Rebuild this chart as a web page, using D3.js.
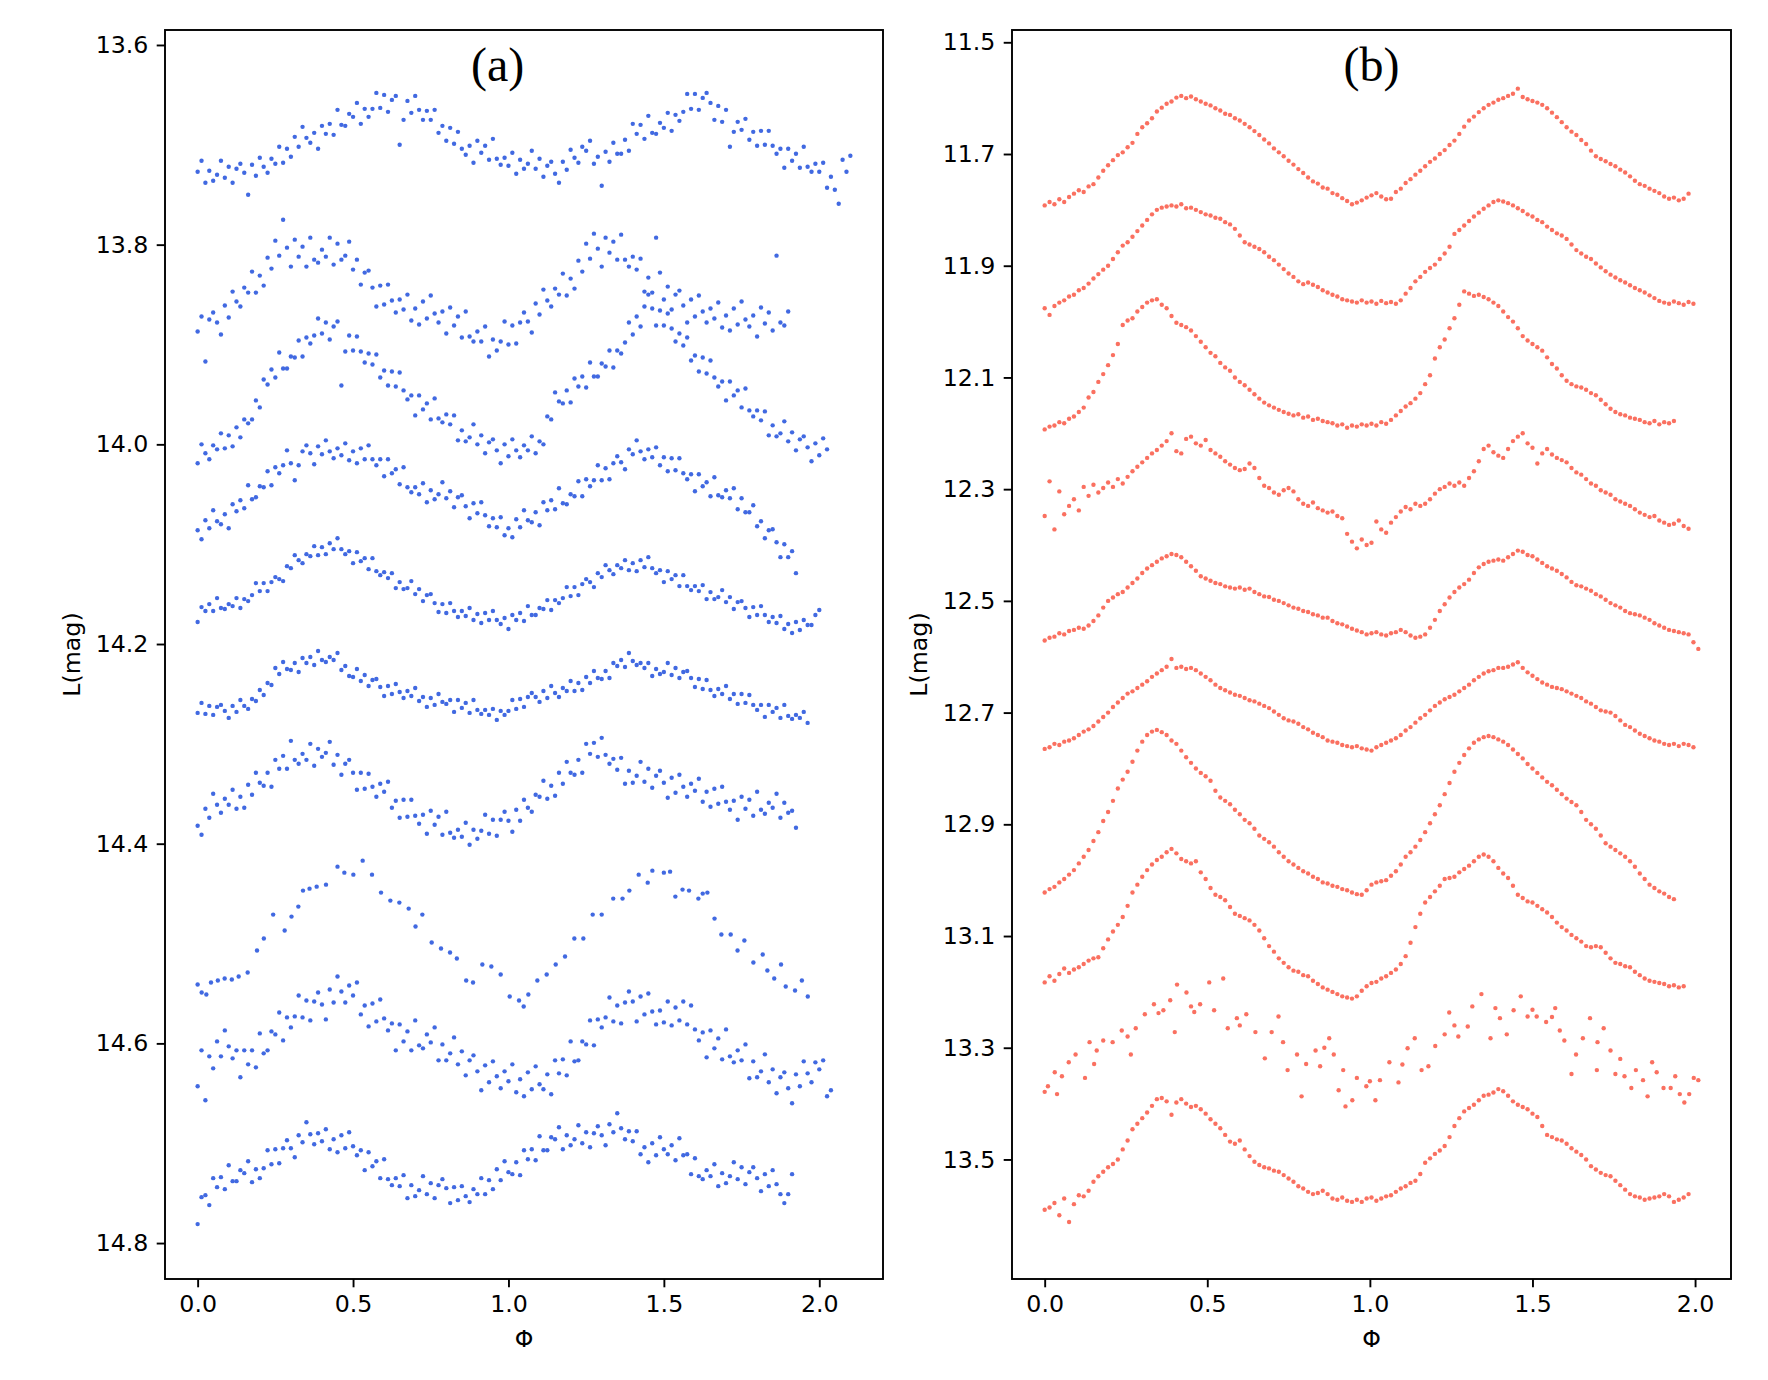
<!DOCTYPE html>
<html><head><meta charset="utf-8">
<script src="https://cdn.jsdelivr.net/npm/d3@7"></script>
<style>body{margin:0;background:#fff}</style>
</head><body>
<svg id="chart" width="1768" height="1380"></svg>
<script>
// ---------------- data ----------------
const phaseStepA = 0.0125; // phase spacing of the panel (a) sampled arrays
const phaseStepB = 0.015;  // phase spacing of the panel (b) sampled arrays
const xTicks = [0, 0.5, 1.0, 1.5, 2.0];
const yTicksA = [13.6, 13.8, 14.0, 14.2, 14.4, 14.6, 14.8];
const yTicksB = [11.5, 11.7, 11.9, 12.1, 12.3, 12.5, 12.7, 12.9, 13.1, 13.3, 13.5];
const xLimA = [-0.105, 2.205], yLimA = [13.585, 14.836];
const xLimB = [-0.1005, 2.1105], yLimB = [11.478, 13.714];
const panelTitles = ["(a)", "(b)"];
const titlePhase = [0.965, 1.005];

// panel (a) light curves (magnitude at phase = i*phaseStepA)
const a1 = [13.727,13.716,13.738,13.726,13.736,13.730,13.716,13.733,13.722,13.738,
13.724,13.719,13.728,13.750,13.720,13.731,13.713,13.722,13.728,13.714,
13.719,13.702,13.718,13.704,13.712,13.692,13.702,13.682,13.693,13.698,
13.688,13.704,13.681,13.689,13.679,13.690,13.665,13.680,13.681,13.669,
13.672,13.658,13.679,13.664,13.672,13.664,13.648,13.663,13.650,13.667,
13.655,13.651,13.700,13.675,13.656,13.668,13.651,13.665,13.675,13.666,
13.675,13.665,13.688,13.681,13.696,13.683,13.699,13.687,13.704,13.710,
13.701,13.718,13.696,13.708,13.701,13.715,13.694,13.714,13.720,13.713,
13.721,13.708,13.729,13.715,13.724,13.719,13.706,13.724,13.714,13.732,
13.721,13.717,13.729,13.738,13.717,13.725,13.705,13.713,13.718,13.702,
13.706,13.696,13.719,13.712,13.741,13.707,13.717,13.698,13.709,13.709,
13.695,13.706,13.679,13.689,13.680,13.694,13.671,13.688,13.689,13.678,
13.683,13.668,13.686,13.670,13.676,13.667,13.649,13.664,13.649,13.665,
13.653,13.648,13.658,13.675,13.661,13.677,13.665,13.702,13.687,13.677,
13.685,13.674,13.695,13.687,13.701,13.686,13.700,13.686,13.701,13.709,
13.704,13.723,13.704,13.716,13.709,13.723,13.702,13.722,13.727,13.719,
13.727,13.718,13.743,13.732,13.745,13.759,13.715,13.727,13.711];
const a2 = [13.887,13.872,13.917,13.875,13.868,13.878,13.890,13.861,13.873,13.847,
13.857,13.862,13.843,13.848,13.827,13.848,13.831,13.841,13.813,13.824,
13.796,13.811,13.775,13.803,13.822,13.795,13.812,13.802,13.822,13.793,
13.815,13.818,13.805,13.812,13.793,13.820,13.799,13.815,13.811,13.797,
13.825,13.815,13.840,13.828,13.826,13.843,13.862,13.841,13.860,13.840,
13.856,13.868,13.855,13.865,13.850,13.876,13.864,13.880,13.857,13.874,
13.851,13.869,13.878,13.867,13.889,13.863,13.881,13.872,13.893,13.867,
13.892,13.897,13.887,13.897,13.882,13.912,13.895,13.906,13.897,13.877,
13.900,13.881,13.899,13.878,13.868,13.877,13.888,13.859,13.870,13.845,
13.856,13.862,13.844,13.850,13.829,13.851,13.834,13.844,13.816,13.827,
13.799,13.814,13.789,13.804,13.822,13.793,13.808,13.797,13.815,13.790,
13.815,13.822,13.812,13.825,13.814,13.847,13.833,13.848,13.793,13.828,
13.855,13.842,13.865,13.850,13.846,13.861,13.878,13.855,13.872,13.851,
13.867,13.878,13.864,13.874,13.858,13.883,13.871,13.886,13.864,13.880,
13.857,13.875,13.882,13.871,13.892,13.863,13.879,13.868,13.886,13.811,
13.878,13.881,13.867];
const a3 = [14.019,14.000,14.009,14.015,14.001,14.005,13.989,14.004,13.991,14.002,
13.983,13.993,13.975,13.979,13.975,13.956,13.963,13.935,13.940,13.925,
13.933,13.908,13.924,13.924,13.912,13.913,13.896,13.912,13.893,13.899,
13.891,13.874,13.889,13.878,13.895,13.882,13.877,13.941,13.907,13.891,
13.906,13.892,13.907,13.918,13.909,13.920,13.910,13.933,13.926,13.941,
13.927,13.942,13.928,13.946,13.955,13.951,13.971,13.951,13.965,13.959,
13.975,13.954,13.974,13.978,13.970,13.980,13.971,13.996,13.986,13.997,
13.993,13.980,14.000,13.991,14.009,13.998,13.995,14.006,14.019,14.000,
14.012,13.995,14.006,14.013,14.001,14.006,13.992,14.009,13.997,14.000,
13.972,13.975,13.948,13.957,13.959,13.946,13.958,13.934,13.942,13.932,
13.943,13.918,13.932,13.932,13.919,13.922,13.906,13.923,13.906,13.909,
13.898,13.878,13.890,13.872,13.882,13.862,13.850,13.864,13.881,13.866,
13.881,13.869,13.884,13.897,13.889,13.901,13.893,13.916,13.911,13.927,
13.913,13.929,13.916,13.933,13.942,13.937,13.956,13.937,13.951,13.946,
13.963,13.944,13.966,13.972,13.966,13.976,13.967,13.991,13.981,13.992,
13.989,13.977,13.997,13.988,14.006,13.995,13.992,14.003,14.017,13.999,
14.011,13.994,14.005];
const a4 = [14.086,14.095,14.076,14.084,14.066,14.077,14.080,14.070,14.084,14.060,
14.067,14.056,14.064,14.041,14.055,14.053,14.042,14.043,14.027,14.041,
14.023,14.029,14.021,14.006,14.019,14.036,14.021,14.007,14.001,14.009,
14.020,14.002,14.010,13.996,14.007,14.014,14.004,14.011,13.999,14.016,
14.007,14.019,14.004,14.015,14.001,14.015,14.021,14.015,14.032,14.015,
14.029,14.025,14.040,14.023,14.043,14.048,14.043,14.050,14.039,14.058,
14.046,14.055,14.050,14.038,14.054,14.047,14.063,14.053,14.051,14.062,
14.074,14.059,14.069,14.058,14.071,14.082,14.074,14.083,14.073,14.091,
14.084,14.093,14.075,14.083,14.066,14.076,14.078,14.068,14.081,14.058,
14.066,14.056,14.065,14.044,14.059,14.060,14.050,14.052,14.037,14.052,
14.035,14.042,14.036,14.021,14.036,14.024,14.035,14.019,14.012,14.018,
14.025,14.005,14.010,13.996,14.007,14.015,14.005,14.013,14.003,14.021,
14.013,14.027,14.014,14.026,14.014,14.029,14.035,14.030,14.047,14.030,
14.042,14.038,14.052,14.033,14.051,14.053,14.046,14.054,14.044,14.065,
14.054,14.068,14.068,14.061,14.082,14.077,14.094,14.086,14.085,14.098,
14.113,14.100,14.113,14.107,14.129];
const a5 = [14.178,14.163,14.167,14.160,14.167,14.154,14.164,14.165,14.160,14.162,
14.154,14.164,14.155,14.157,14.151,14.139,14.147,14.139,14.147,14.138,
14.133,14.135,14.137,14.122,14.124,14.111,14.116,14.119,14.110,14.112,
14.102,14.111,14.103,14.110,14.099,14.105,14.094,14.105,14.110,14.107,
14.119,14.108,14.117,14.114,14.125,14.114,14.127,14.131,14.128,14.134,
14.129,14.144,14.138,14.145,14.144,14.137,14.150,14.145,14.157,14.151,
14.150,14.159,14.168,14.160,14.169,14.159,14.167,14.173,14.167,14.172,
14.164,14.176,14.170,14.179,14.169,14.176,14.167,14.176,14.180,14.174,
14.185,14.171,14.176,14.169,14.177,14.162,14.171,14.171,14.164,14.165,
14.156,14.166,14.156,14.159,14.154,14.143,14.152,14.143,14.151,14.140,
14.135,14.138,14.143,14.129,14.133,14.121,14.126,14.130,14.121,14.124,
14.116,14.126,14.119,14.127,14.116,14.123,14.113,14.124,14.129,14.126,
14.138,14.127,14.135,14.131,14.142,14.131,14.142,14.146,14.142,14.147,
14.141,14.155,14.148,14.155,14.153,14.146,14.158,14.153,14.165,14.158,
14.157,14.164,14.173,14.163,14.171,14.162,14.171,14.178,14.173,14.179,
14.172,14.185,14.180,14.189,14.178,14.186,14.176,14.181,14.181,14.171,
14.166];
const a6 = [14.269,14.259,14.270,14.262,14.271,14.263,14.261,14.267,14.274,14.262,
14.268,14.256,14.262,14.265,14.255,14.257,14.246,14.251,14.239,14.241,
14.224,14.230,14.218,14.225,14.226,14.219,14.228,14.214,14.219,14.213,
14.221,14.207,14.216,14.218,14.213,14.216,14.209,14.226,14.222,14.232,
14.233,14.225,14.237,14.231,14.242,14.236,14.235,14.243,14.252,14.242,
14.250,14.240,14.248,14.254,14.247,14.252,14.244,14.257,14.253,14.263,
14.254,14.261,14.250,14.258,14.260,14.256,14.268,14.256,14.264,14.259,
14.269,14.256,14.266,14.270,14.266,14.271,14.265,14.276,14.267,14.271,
14.267,14.256,14.265,14.255,14.263,14.253,14.249,14.253,14.258,14.247,
14.254,14.242,14.249,14.253,14.244,14.247,14.237,14.247,14.239,14.246,
14.233,14.239,14.227,14.234,14.235,14.227,14.234,14.219,14.222,14.216,
14.223,14.209,14.217,14.221,14.219,14.224,14.219,14.232,14.225,14.230,
14.228,14.219,14.231,14.224,14.234,14.228,14.227,14.234,14.243,14.235,
14.245,14.236,14.246,14.252,14.245,14.250,14.242,14.255,14.250,14.260,
14.250,14.259,14.251,14.261,14.266,14.261,14.273,14.261,14.268,14.264,
14.274,14.261,14.272,14.275,14.271,14.274,14.268,14.279];
const a7 = [14.382,14.391,14.365,14.374,14.350,14.361,14.369,14.355,14.361,14.346,
14.365,14.353,14.364,14.341,14.351,14.329,14.339,14.342,14.329,14.343,
14.316,14.325,14.312,14.325,14.297,14.316,14.320,14.310,14.316,14.300,
14.322,14.305,14.313,14.309,14.298,14.321,14.311,14.331,14.320,14.316,
14.329,14.346,14.329,14.345,14.330,14.343,14.353,14.340,14.348,14.338,
14.364,14.357,14.374,14.356,14.373,14.356,14.372,14.380,14.371,14.390,
14.367,14.381,14.373,14.391,14.368,14.389,14.394,14.386,14.393,14.379,
14.401,14.386,14.395,14.387,14.371,14.390,14.376,14.392,14.376,14.368,
14.377,14.388,14.366,14.377,14.356,14.364,14.368,14.351,14.353,14.337,
14.355,14.342,14.352,14.329,14.340,14.318,14.329,14.331,14.316,14.329,
14.300,14.310,14.299,14.313,14.294,14.311,14.320,14.315,14.326,14.314,
14.340,14.327,14.339,14.332,14.318,14.338,14.325,14.344,14.332,14.327,
14.339,14.354,14.334,14.349,14.331,14.343,14.353,14.340,14.347,14.335,
14.358,14.348,14.363,14.345,14.360,14.343,14.358,14.366,14.357,14.376,
14.353,14.365,14.356,14.372,14.348,14.366,14.370,14.359,14.364,14.350,
14.374,14.359,14.369,14.367,14.384];
// sparse curve: [phase, magnitude]
const a8 = [[0,14.541],[0.013,14.549],[0.028,14.551],[0.043,14.539],[0.065,14.537],[0.087,14.535],[0.11,14.536],[0.132,14.533],[0.161,14.529],[0.191,14.507],[0.213,14.495],[0.243,14.471],[0.28,14.487],[0.302,14.473],[0.324,14.463],[0.339,14.447],[0.36,14.445],[0.383,14.443],[0.413,14.441],[0.45,14.423],[0.472,14.429],[0.501,14.431],[0.531,14.417],[0.561,14.431],[0.59,14.449],[0.62,14.457],[0.649,14.459],[0.679,14.465],[0.701,14.483],[0.723,14.471],[0.753,14.499],[0.783,14.505],[0.812,14.509],[0.834,14.515],[0.864,14.537],[0.886,14.539],[0.916,14.521],[0.945,14.523],[0.975,14.531],[1.004,14.553],[1.034,14.557],[1.049,14.563],[1.064,14.551],[1.093,14.537],[1.123,14.531],[1.152,14.521],[1.182,14.513],[1.212,14.495],[1.241,14.495],[1.271,14.471],[1.3,14.471],[1.337,14.455],[1.367,14.455],[1.389,14.447],[1.419,14.431],[1.448,14.439],[1.463,14.427],[1.5,14.429],[1.52,14.428],[1.537,14.453],[1.56,14.446],[1.581,14.447],[1.611,14.455],[1.625,14.45],[1.64,14.449],[1.663,14.475],[1.685,14.491],[1.715,14.491],[1.737,14.507],[1.759,14.497],[1.788,14.519],[1.818,14.511],[1.833,14.527],[1.855,14.535],[1.877,14.521],[1.892,14.543],[1.922,14.547],[1.944,14.537],[1.963,14.553]];
const a9 = [14.643,14.607,14.657,14.613,14.625,14.598,14.613,14.587,14.603,14.615,
14.607,14.634,14.607,14.621,14.607,14.624,14.590,14.610,14.607,14.588,
14.591,14.569,14.597,14.574,14.584,14.573,14.552,14.574,14.557,14.577,
14.558,14.549,14.561,14.576,14.546,14.559,14.533,14.548,14.559,14.542,
14.552,14.539,14.571,14.562,14.583,14.560,14.578,14.556,14.575,14.587,
14.580,14.607,14.581,14.598,14.588,14.607,14.577,14.602,14.605,14.591,
14.599,14.584,14.617,14.601,14.617,14.610,14.594,14.621,14.608,14.632,
14.617,14.612,14.628,14.647,14.622,14.639,14.618,14.633,14.645,14.628,
14.638,14.621,14.649,14.636,14.653,14.629,14.646,14.623,14.641,14.646,
14.631,14.651,14.617,14.630,14.616,14.632,14.598,14.618,14.617,14.598,
14.601,14.577,14.602,14.576,14.584,14.574,14.554,14.578,14.562,14.580,
14.559,14.548,14.558,14.578,14.553,14.571,14.550,14.568,14.581,14.567,
14.579,14.558,14.582,14.564,14.577,14.558,14.581,14.562,14.586,14.597,
14.589,14.614,14.587,14.605,14.595,14.616,14.586,14.613,14.619,14.607,
14.617,14.601,14.635,14.618,14.634,14.628,14.611,14.639,14.626,14.650,
14.634,14.629,14.645,14.660,14.631,14.643,14.618,14.630,14.639,14.619,
14.626,14.617,14.653,14.647];
const a10 = [14.781,14.754,14.752,14.762,14.735,14.744,14.734,14.746,14.722,14.738,
14.738,14.727,14.730,14.718,14.739,14.726,14.735,14.725,14.707,14.721,
14.706,14.720,14.705,14.697,14.705,14.714,14.692,14.699,14.679,14.691,
14.701,14.690,14.698,14.686,14.706,14.696,14.709,14.692,14.705,14.689,
14.703,14.712,14.707,14.727,14.709,14.723,14.718,14.735,14.716,14.736,
14.742,14.735,14.743,14.732,14.755,14.742,14.753,14.747,14.733,14.751,
14.740,14.755,14.742,14.736,14.745,14.760,14.744,14.757,14.743,14.753,
14.759,14.746,14.751,14.735,14.751,14.737,14.746,14.726,14.737,14.718,
14.729,14.731,14.719,14.732,14.707,14.716,14.706,14.717,14.693,14.707,
14.707,14.694,14.696,14.684,14.706,14.692,14.702,14.696,14.682,14.700,
14.689,14.704,14.690,14.683,14.692,14.702,14.681,14.689,14.670,14.685,
14.696,14.688,14.698,14.688,14.711,14.704,14.719,14.700,14.712,14.694,
14.706,14.711,14.702,14.717,14.695,14.712,14.711,14.731,14.715,14.733,
14.736,14.727,14.733,14.721,14.743,14.730,14.740,14.733,14.719,14.736,
14.724,14.741,14.729,14.724,14.735,14.748,14.731,14.743,14.727,14.741,
14.751,14.760,14.751,14.731];

// panel (b) light curves (magnitude at phase = i*phaseStepB)
const b1 = [11.792,11.786,11.790,11.781,11.786,11.777,11.771,11.765,11.768,11.758,
11.754,11.742,11.730,11.720,11.711,11.702,11.697,11.688,11.680,11.664,
11.652,11.645,11.636,11.624,11.617,11.610,11.606,11.599,11.596,11.600,
11.597,11.602,11.606,11.610,11.613,11.618,11.622,11.628,11.630,11.636,
11.640,11.646,11.652,11.659,11.666,11.674,11.681,11.690,11.697,11.704,
11.712,11.719,11.727,11.734,11.742,11.749,11.753,11.760,11.762,11.770,
11.773,11.779,11.784,11.790,11.787,11.783,11.778,11.774,11.770,11.776,
11.781,11.780,11.768,11.762,11.752,11.745,11.737,11.730,11.722,11.714,
11.708,11.700,11.693,11.684,11.676,11.664,11.651,11.640,11.633,11.625,
11.618,11.612,11.608,11.603,11.600,11.596,11.592,11.583,11.598,11.602,
11.605,11.608,11.612,11.618,11.626,11.634,11.643,11.652,11.660,11.666,
11.675,11.682,11.694,11.704,11.709,11.713,11.718,11.722,11.728,11.733,
11.740,11.748,11.754,11.757,11.762,11.766,11.770,11.776,11.780,11.778,
11.783,11.780,11.771];
const b2 = [11.976,11.988,11.972,11.966,11.962,11.955,11.952,11.944,11.940,11.932,
11.923,11.915,11.907,11.900,11.888,11.876,11.864,11.858,11.848,11.838,
11.828,11.818,11.808,11.800,11.796,11.794,11.792,11.794,11.790,11.797,
11.796,11.800,11.804,11.808,11.810,11.814,11.816,11.822,11.826,11.834,
11.846,11.858,11.862,11.866,11.870,11.876,11.884,11.890,11.898,11.906,
11.914,11.920,11.928,11.933,11.930,11.934,11.938,11.944,11.948,11.952,
11.955,11.960,11.962,11.964,11.966,11.962,11.966,11.964,11.968,11.963,
11.967,11.965,11.968,11.962,11.950,11.940,11.928,11.920,11.911,11.904,
11.898,11.888,11.878,11.866,11.843,11.836,11.828,11.820,11.812,11.805,
11.798,11.792,11.786,11.783,11.785,11.788,11.792,11.797,11.802,11.808,
11.812,11.818,11.822,11.830,11.836,11.842,11.846,11.852,11.862,11.872,
11.878,11.884,11.888,11.896,11.903,11.910,11.916,11.921,11.926,11.930,
11.935,11.940,11.944,11.948,11.953,11.958,11.963,11.966,11.968,11.964,
11.967,11.970,11.965,11.968];
const b3 = [12.193,12.188,12.186,12.180,12.182,12.174,12.170,12.162,12.154,12.136,
12.126,12.108,12.094,12.078,12.060,12.040,12.006,11.998,11.994,11.982,
11.974,11.966,11.962,11.960,11.970,11.976,11.990,12.002,12.006,12.010,
12.016,12.026,12.036,12.046,12.056,12.062,12.074,12.082,12.088,12.100,
12.108,12.114,12.122,12.130,12.138,12.145,12.150,12.154,12.158,12.162,
12.165,12.168,12.166,12.172,12.170,12.176,12.174,12.178,12.180,12.182,
12.186,12.184,12.190,12.186,12.188,12.184,12.186,12.183,12.186,12.180,
12.183,12.176,12.168,12.160,12.152,12.146,12.138,12.128,12.112,12.096,
12.066,12.046,12.032,12.012,11.994,11.970,11.946,11.950,11.954,11.952,
11.956,11.960,11.966,11.972,11.982,11.992,12.000,12.012,12.026,12.034,
12.040,12.046,12.052,12.064,12.076,12.084,12.096,12.106,12.112,12.116,
12.118,12.122,12.128,12.132,12.140,12.148,12.156,12.162,12.166,12.168,
12.172,12.174,12.176,12.180,12.182,12.178,12.184,12.180,12.182,12.178];
const b4 = [12.348,12.286,12.372,12.304,12.345,12.330,12.318,12.338,12.296,12.312,
12.292,12.306,12.298,12.288,12.296,12.282,12.290,12.278,12.268,12.260,
12.252,12.244,12.236,12.230,12.222,12.214,12.200,12.232,12.236,12.210,
12.206,12.218,12.222,12.212,12.230,12.236,12.242,12.250,12.256,12.262,
12.266,12.264,12.254,12.262,12.280,12.294,12.298,12.306,12.310,12.302,
12.298,12.304,12.318,12.326,12.330,12.324,12.334,12.338,12.342,12.340,
12.348,12.352,12.380,12.394,12.406,12.390,12.400,12.396,12.358,12.372,
12.378,12.360,12.350,12.340,12.332,12.336,12.326,12.330,12.326,12.318,
12.308,12.300,12.296,12.290,12.294,12.288,12.294,12.280,12.268,12.250,
12.228,12.222,12.234,12.240,12.244,12.228,12.214,12.206,12.200,12.218,
12.226,12.254,12.236,12.228,12.238,12.244,12.248,12.252,12.262,12.270,
12.274,12.282,12.290,12.294,12.302,12.306,12.310,12.318,12.322,12.326,
12.330,12.336,12.342,12.346,12.350,12.348,12.356,12.360,12.364,12.362,
12.356,12.366,12.371];
const b5 = [12.571,12.566,12.564,12.558,12.560,12.554,12.552,12.548,12.550,12.544,
12.536,12.526,12.512,12.500,12.494,12.488,12.484,12.476,12.468,12.460,
12.450,12.442,12.436,12.430,12.424,12.420,12.416,12.418,12.422,12.430,
12.438,12.446,12.456,12.460,12.464,12.468,12.470,12.474,12.476,12.478,
12.476,12.480,12.478,12.484,12.488,12.492,12.493,12.498,12.500,12.504,
12.508,12.512,12.514,12.518,12.520,12.524,12.526,12.530,12.530,12.536,
12.540,12.542,12.546,12.550,12.553,12.556,12.560,12.558,12.556,12.560,
12.562,12.558,12.556,12.552,12.556,12.562,12.566,12.564,12.560,12.548,
12.534,12.518,12.506,12.494,12.484,12.476,12.470,12.462,12.450,12.440,
12.434,12.430,12.428,12.426,12.428,12.422,12.416,12.410,12.412,12.418,
12.420,12.426,12.432,12.438,12.442,12.446,12.452,12.458,12.466,12.472,
12.474,12.478,12.482,12.488,12.492,12.498,12.504,12.508,12.512,12.518,
12.522,12.524,12.526,12.530,12.534,12.540,12.544,12.548,12.552,12.554,
12.556,12.558,12.560,12.574,12.586];
const b6 = [12.765,12.762,12.756,12.758,12.752,12.750,12.746,12.740,12.734,12.730,
12.724,12.716,12.708,12.700,12.690,12.682,12.674,12.666,12.662,12.656,
12.650,12.644,12.636,12.630,12.624,12.618,12.604,12.620,12.618,12.622,
12.620,12.624,12.630,12.636,12.642,12.650,12.656,12.660,12.664,12.668,
12.670,12.674,12.678,12.680,12.684,12.688,12.692,12.698,12.704,12.710,
12.714,12.716,12.720,12.726,12.730,12.736,12.740,12.744,12.750,12.752,
12.754,12.758,12.760,12.762,12.760,12.764,12.766,12.768,12.762,12.758,
12.754,12.750,12.746,12.740,12.732,12.726,12.718,12.710,12.704,12.696,
12.688,12.682,12.676,12.672,12.668,12.662,12.656,12.650,12.642,12.636,
12.630,12.626,12.624,12.620,12.620,12.618,12.614,12.610,12.620,12.628,
12.634,12.640,12.646,12.650,12.654,12.656,12.658,12.662,12.666,12.670,
12.674,12.680,12.684,12.690,12.696,12.698,12.700,12.706,12.714,12.722,
12.726,12.732,12.738,12.742,12.746,12.750,12.752,12.756,12.758,12.756,
12.760,12.756,12.758,12.762];
const b7 = [13.022,13.016,13.012,13.004,12.998,12.990,12.982,12.970,12.958,12.946,
12.930,12.914,12.894,12.878,12.858,12.836,12.820,12.806,12.788,12.768,
12.752,12.740,12.734,12.731,12.735,12.740,12.750,12.756,12.768,12.780,
12.790,12.800,12.808,12.814,12.822,12.840,12.852,12.858,12.864,12.874,
12.882,12.892,12.898,12.908,12.920,12.926,12.932,12.940,12.950,12.958,
12.966,12.972,12.978,12.984,12.988,12.994,12.998,13.004,13.006,13.010,
13.012,13.016,13.018,13.022,13.025,13.026,13.018,13.008,13.004,13.002,
13.000,12.992,12.984,12.972,12.958,12.950,12.940,12.928,12.914,12.898,
12.882,12.866,12.846,12.826,12.806,12.790,12.776,12.764,12.754,12.748,
12.744,12.742,12.744,12.748,12.752,12.758,12.766,12.774,12.782,12.792,
12.800,12.808,12.816,12.824,12.830,12.838,12.846,12.854,12.860,12.866,
12.878,12.892,12.900,12.908,12.920,12.934,12.940,12.946,12.952,12.958,
12.966,12.976,12.988,12.998,13.008,13.014,13.020,13.024,13.030,13.034];
const b8 = [13.183,13.172,13.180,13.168,13.158,13.166,13.160,13.156,13.150,13.144,
13.140,13.138,13.122,13.106,13.092,13.080,13.066,13.046,13.022,13.008,
12.994,12.982,12.972,12.964,12.958,12.950,12.944,12.952,12.962,12.966,
12.970,12.966,12.986,12.998,13.014,13.026,13.030,13.036,13.048,13.060,
13.064,13.068,13.072,13.080,13.090,13.104,13.118,13.128,13.140,13.148,
13.156,13.162,13.164,13.170,13.172,13.180,13.186,13.192,13.196,13.200,
13.204,13.208,13.210,13.212,13.208,13.198,13.190,13.184,13.182,13.176,
13.172,13.166,13.160,13.150,13.136,13.112,13.084,13.060,13.040,13.030,
13.020,13.010,12.998,12.996,12.994,12.986,12.980,12.974,12.966,12.958,
12.954,12.958,12.966,12.978,12.988,12.996,13.010,13.026,13.032,13.038,
13.040,13.046,13.052,13.058,13.066,13.076,13.084,13.090,13.098,13.104,
13.110,13.118,13.120,13.118,13.120,13.130,13.140,13.148,13.150,13.154,
13.156,13.164,13.170,13.176,13.180,13.182,13.184,13.186,13.190,13.188,
13.192,13.190];
// noisy curve: [phase, magnitude]
const b9 = [[0,13.379],[0.01,13.369],[0.031,13.344],[0.038,13.383],[0.053,13.351],[0.074,13.326],[0.095,13.312],[0.124,13.354],[0.138,13.29],[0.152,13.329],[0.16,13.305],[0.18,13.287],[0.209,13.29],[0.237,13.269],[0.255,13.28],[0.265,13.312],[0.28,13.265],[0.308,13.24],[0.336,13.222],[0.35,13.238],[0.365,13.233],[0.386,13.215],[0.4,13.272],[0.407,13.187],[0.436,13.201],[0.45,13.226],[0.46,13.236],[0.478,13.222],[0.506,13.183],[0.521,13.233],[0.549,13.176],[0.563,13.265],[0.591,13.247],[0.6,13.26],[0.62,13.24],[0.648,13.272],[0.677,13.319],[0.698,13.272],[0.719,13.244],[0.733,13.29],[0.747,13.34],[0.776,13.312],[0.79,13.387],[0.804,13.329],[0.833,13.305],[0.847,13.333],[0.86,13.3],[0.875,13.283],[0.889,13.312],[0.904,13.376],[0.918,13.34],[0.925,13.405],[0.946,13.394],[0.96,13.354],[0.989,13.369],[1.0,13.36],[1.017,13.394],[1.031,13.358],[1.06,13.326],[1.088,13.362],[1.1,13.33],[1.116,13.301],[1.138,13.283],[1.159,13.34],[1.18,13.333],[1.201,13.297],[1.23,13.276],[1.244,13.237],[1.26,13.26],[1.272,13.28],[1.301,13.262],[1.315,13.226],[1.343,13.204],[1.371,13.283],[1.386,13.229],[1.4,13.247],[1.421,13.276],[1.442,13.233],[1.464,13.208],[1.485,13.244],[1.5,13.232],[1.513,13.244],[1.542,13.254],[1.56,13.245],[1.57,13.229],[1.584,13.269],[1.598,13.287],[1.62,13.347],[1.634,13.312],[1.655,13.283],[1.677,13.247],[1.698,13.34],[1.7,13.29],[1.719,13.265],[1.74,13.305],[1.755,13.347],[1.77,13.32],[1.783,13.351],[1.804,13.372],[1.818,13.34],[1.84,13.358],[1.854,13.387],[1.868,13.326],[1.882,13.344],[1.903,13.372],[1.925,13.372],[1.939,13.351],[1.953,13.383],[1.967,13.398],[1.982,13.383],[1.996,13.354],[2.01,13.358]];
const b10 = [13.590,13.586,13.578,13.600,13.570,13.612,13.580,13.564,13.566,13.556,
13.540,13.530,13.522,13.514,13.508,13.500,13.482,13.466,13.446,13.436,
13.426,13.416,13.404,13.392,13.390,13.396,13.420,13.398,13.392,13.400,
13.406,13.404,13.410,13.418,13.428,13.436,13.444,13.456,13.468,13.472,
13.466,13.482,13.494,13.504,13.510,13.514,13.516,13.520,13.522,13.528,
13.534,13.540,13.548,13.552,13.558,13.562,13.560,13.556,13.562,13.570,
13.572,13.568,13.574,13.576,13.572,13.576,13.570,13.568,13.574,13.570,
13.566,13.564,13.558,13.552,13.548,13.542,13.538,13.526,13.506,13.498,
13.490,13.484,13.476,13.460,13.440,13.426,13.414,13.408,13.402,13.394,
13.386,13.384,13.380,13.374,13.378,13.386,13.396,13.402,13.406,13.410,
13.418,13.424,13.440,13.456,13.460,13.464,13.466,13.472,13.480,13.486,
13.492,13.500,13.512,13.518,13.524,13.528,13.530,13.538,13.546,13.554,
13.562,13.566,13.568,13.572,13.570,13.568,13.566,13.562,13.566,13.576,
13.572,13.568,13.562];

// ---------------- drawing ----------------
const toPts = (arr, step) => arr.map((m, i) => [i * step, m]);
const pA = arr => toPts(arr, phaseStepA), pB = arr => toPts(arr, phaseStepB);
const seriesA = [pA(a1), pA(a2), pA(a3), pA(a4), pA(a5), pA(a6), pA(a7), a8, pA(a9), pA(a10)];
const seriesB = [pB(b1), pB(b2), pB(b3), pB(b4), pB(b5), pB(b6), pB(b7), pB(b8), b9, pB(b10)];

const svg = d3.select("#chart");
svg.append("rect").attr("width", 1768).attr("height", 1380).attr("fill", "#fff");
const FONT = "'DejaVu Sans', sans-serif";
const FS = "23.7px";

function drawPanel(o) {
  const x = d3.scaleLinear().domain(o.xLim).range([o.left, o.right]);
  const y = d3.scaleLinear().domain(o.yLim).range([o.top, o.bottom]);
  const g = svg.append("g");
  o.series.forEach(pts => {
    g.append("g").selectAll("circle").data(pts).join("circle")
      .attr("cx", d => x(d[0])).attr("cy", d => y(d[1]))
      .attr("r", 2.2).attr("fill", o.color);
  });
  g.append("rect").attr("x", o.left).attr("y", o.top)
    .attr("width", o.right - o.left).attr("height", o.bottom - o.top)
    .attr("fill", "none").attr("stroke", "#000").attr("stroke-width", 1.9);
  const xa = g.append("g").attr("transform", `translate(0,${o.bottom})`)
    .call(d3.axisBottom(x).tickValues(xTicks).tickFormat(d3.format(".1f")).tickSize(8.3).tickPadding(8.3));
  const ya = g.append("g").attr("transform", `translate(${o.left},0)`)
    .call(d3.axisLeft(y).tickValues(o.yTicks).tickFormat(d3.format(".1f")).tickSize(8.3).tickPadding(8.3));
  [xa, ya].forEach(a => {
    a.select(".domain").remove();
    a.selectAll(".tick line").attr("stroke", "#000").attr("stroke-width", 1.9);
    a.selectAll(".tick text").attr("fill", "#000").style("font-family", FONT).style("font-size", FS);
  });
  g.append("text").attr("x", (o.left + o.right) / 2).attr("y", 1347)
    .attr("text-anchor", "middle").style("font-family", FONT).style("font-size", FS).text("Φ");
  g.append("text").attr("transform", `translate(${o.left - 93},${(o.top + o.bottom) / 2}) rotate(-90)`)
    .attr("text-anchor", "middle").attr("dy", "0.35em")
    .style("font-family", FONT).style("font-size", FS).text("L(mag)");
  g.append("text").attr("x", x(o.titlePhase)).attr("y", 81).attr("text-anchor", "middle")
    .style("font-family", "'Liberation Serif', 'Times New Roman', serif").style("font-size", "48px")
    .text(o.title);
}

drawPanel({left: 165, right: 883, top: 30, bottom: 1279, xLim: xLimA, yLim: yLimA,
  yTicks: yTicksA, series: seriesA, color: "#4169E1", title: panelTitles[0], titlePhase: titlePhase[0]});
drawPanel({left: 1012, right: 1731, top: 30, bottom: 1279, xLim: xLimB, yLim: yLimB,
  yTicks: yTicksB, series: seriesB, color: "#FA7060", title: panelTitles[1], titlePhase: titlePhase[1]});
</script>
</body></html>
